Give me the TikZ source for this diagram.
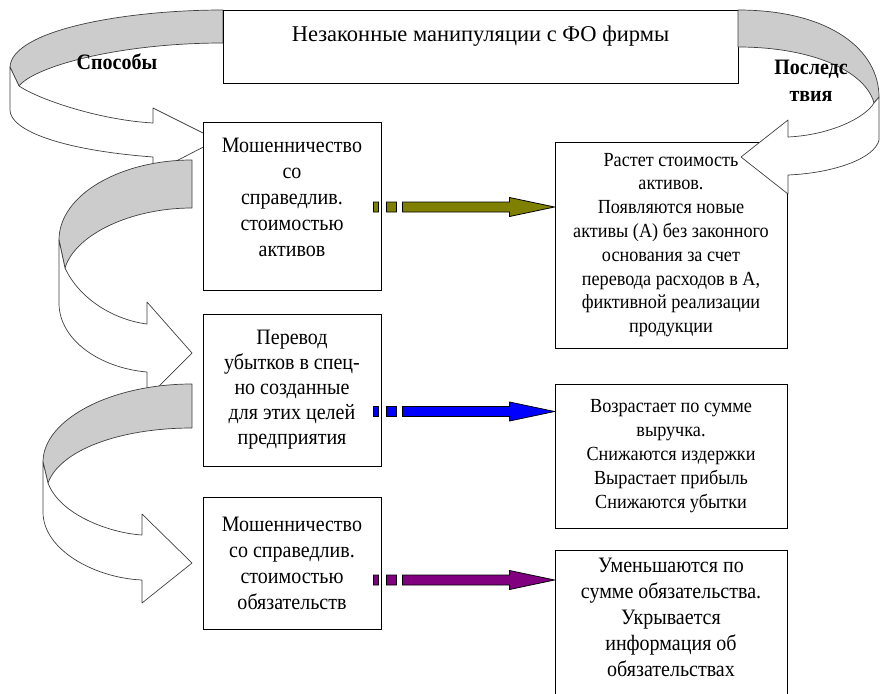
\documentclass[tikz,border=0pt]{standalone}
\usepackage{fontspec}
\setmainfont{Liberation Serif}[FakeStretch=0.91]
\newfontfamily\titlefont{Liberation Serif}
\usetikzlibrary{calc}
\definecolor{BackGray}{RGB}{204,204,204}
\definecolor{ArrOlive}{RGB}{128,128,0}
\definecolor{ArrBlue}{RGB}{0,0,255}
\definecolor{ArrPurple}{RGB}{128,0,128}
\tikzset{
  fat/.style = {draw=black, line width=0.8pt, fill=#1,
    to path={let \p1=(\tikztostart), \p2=(\tikztotarget) in
      (\x1,\y1-5) rectangle (\x1+5,\y1+5)
      (\x1+13,\y1-5) rectangle (\x1+23,\y1+5)
      (\x1+29,\y1-5) -- (\x2-45,\y1-5) -- (\x2-45,\y1-9.5) -- (\x2,\y1)
      -- (\x2-45,\y1+9.5) -- (\x2-45,\y1+5) -- (\x1+29,\y1+5) -- cycle}}
}

\begin{document}
\begin{tikzpicture}[x=1pt, y=-1pt,
    box/.style   = {draw=black, line width=0.9pt, fill=white, align=center,
                    inner sep=0pt},
    lbox/.style  = {box, minimum width=178pt, font=\fontsize{22}{26}\selectfont},
    rbox/.style  = {box, minimum width=232pt, font=\fontsize{20}{23.8}\selectfont},
    band/.style  = {draw=black!75, line width=0.7pt, line join=round},
    back/.style  = {band, fill=BackGray},
    front/.style = {band, fill=white},
    tag/.style   = {font=\fontsize{22}{27}\selectfont\bfseries, align=center},
  ]
  \useasboundingbox (0,0) rectangle (880,693);

  \draw[back] (223,10) .. controls (125,10) and (12,30) .. (10,67) -- (19,86)
    .. controls (35,66) and (120,43) .. (223,43) -- cycle;
  \draw[front] (10,67) -- (10,110) .. controls (10,130) and (60,150) .. (153,157)
    -- (153,173) -- (217,140) -- (153,108) -- (153,123)
    .. controls (100,120) and (40,100) .. (19,86) -- cycle;

  \draw[back] (192,160) .. controls (120,160) and (59,195) .. (59,240) -- (65,268)
    .. controls (75,235) and (130,208) .. (192,208) -- cycle;
  \draw[front] (59,240) -- (59,303) .. controls (59,340) and (100,368) .. (147,372)
    -- (147,398) -- (192,353) -- (147,302) -- (147,324)
    .. controls (115,320) and (80,300) .. (65,268) -- cycle;

  \draw[back] (192,384) .. controls (110,384) and (43,420) .. (43,462) -- (48,483)
    .. controls (60,450) and (120,428) .. (192,428) -- cycle;
  \draw[front] (43,462) -- (43,512) .. controls (43,550) and (95,578) .. (142,580)
    -- (142,603) -- (192,563) -- (142,514) -- (142,535)
    .. controls (110,533) and (60,515) .. (48,483) -- cycle;

  \node[box, minimum width=515pt, minimum height=73pt,
        font=\titlefont\fontsize{22.5}{25}\selectfont] (title) at (480.5,46.5)
    {Незаконные манипуляции с ФО фирмы\\\mbox{}};

  \node[lbox, minimum height=168pt] (frA) at (292,206)
    {Мошенничество\\со\\справедлив.\\стоимостью\\активов\\[-9pt]\mbox{}};
  \node[lbox, minimum height=152pt, font=\fontsize{22}{25}\selectfont] (loss) at (292,390)
    {Перевод\\убытков в спец-\\но созданные\\для этих целей\\предприятия};
  \node[lbox, minimum height=132pt] (frL) at (292,563)
    {Мошенничество\\со справедлив.\\стоимостью\\обязательств};

  \node[rbox, minimum height=206pt] (resA) at (671,245)
    {Растет стоимость\\активов.\\Появляются новые\\активы (А) без законного\\основания за счет\\перевода расходов в А,\\фиктивной реализации\\продукции};
  \node[rbox, minimum height=144pt, font=\fontsize{20}{24}\selectfont] (resP) at (671,456)
    {Возрастает по сумме\\выручка.\\Снижаются издержки\\Вырастает прибыль\\Снижаются убытки};
  \node[rbox, minimum height=160pt, font=\fontsize{22}{26}\selectfont] (resL) at (671,630)
    {Уменьшаются по\\сумме обязательства.\\Укрывается\\информация об\\обязательствах\\\mbox{}};

  \draw[back] (738,10) .. controls (830,10) and (879,50) .. (879,97) -- (874,103)
    .. controls (865,70) and (810,47) .. (738,47) -- cycle;
  \draw[front] (879,97) -- (879,140) .. controls (875,158) and (835,173) .. (788,175)
    -- (788,194) -- (741,157) -- (788,120) -- (788,137)
    .. controls (830,135) and (865,118) .. (874,103) -- cycle;

  \coordinate (ga) at ([xshift=-8pt,yshift=-1pt]frA.east);
  \coordinate (gb) at ([xshift=-8pt,yshift=-21.5pt]loss.east);
  \coordinate (gc) at ([xshift=-8pt,yshift=-17pt]frL.east);
  \draw[fat=ArrOlive]  (ga) to (ga -| resA.west);
  \draw[fat=ArrBlue]   (gb) to (gb -| resP.west);
  \draw[fat=ArrPurple] (gc) to (gc -| resL.west);

  \node[tag] (ways) at (117,62) {Способы};
  \node[tag] (cons) at (811,81) {Последс\\твия};

\end{tikzpicture}
\end{document}
